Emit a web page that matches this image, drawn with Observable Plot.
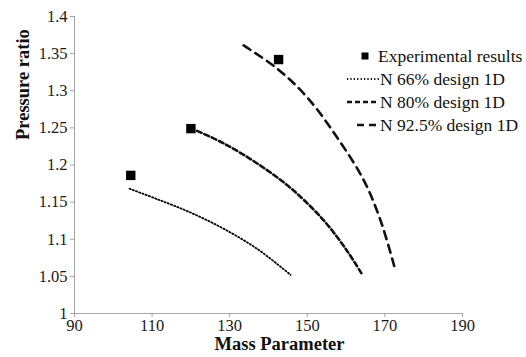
<!DOCTYPE html>
<html>
<head>
<meta charset="utf-8">
<script src="https://cdn.jsdelivr.net/npm/d3@7"></script>
<script src="https://cdn.jsdelivr.net/npm/@observablehq/plot@0.6"></script>
<style>
  html, body { margin: 0; padding: 0; background: #fff; }
  #wrap { position: relative; width: 526px; height: 357px; overflow: hidden; font-family: "Liberation Serif", "Times New Roman", serif; }
  #legend { position: absolute; left: 0; top: 0; width: 526px; height: 357px; pointer-events: none; }
  .row { position: absolute; left: 345px; height: 20px; display: flex; align-items: center; font-size: 17.5px; color: #111; white-space: nowrap; }
  .row svg { flex: none; }
</style>
</head>
<body>
<div id="wrap"></div>
<script>
// ---- data ----
const expX = [104.5, 120.0, 142.6];
const expY = [1.186, 1.249, 1.342];

const n66X = [104.2, 111.3, 119.9, 128.5, 137.1, 145.7];
const n66Y = [1.168, 1.154, 1.136, 1.114, 1.087, 1.052];

const n80X = [121.6, 128.5, 137.1, 145.7, 154.3, 160.3, 164.2];
const n80Y = [1.246, 1.229, 1.202, 1.169, 1.125, 1.084, 1.052];

const n92X = [133.6, 142.2, 150.0, 157.7, 164.6, 168.9, 172.5];
const n92Y = [1.361, 1.330, 1.291, 1.237, 1.179, 1.125, 1.062];

const xTicks = [90, 110, 130, 150, 170, 190];
const yTicks = [1, 1.05, 1.1, 1.15, 1.2, 1.25, 1.3, 1.35, 1.4];
const yTickLabels = ["1", "1.05", "1.1", "1.15", "1.2", "1.25", "1.3", "1.35", "1.4"];

const seriesNames = ["Experimental results", "N 66% design 1D", "N 80% design 1D", "N 92.5% design 1D"];
const xTitle = "Mass Parameter";
const yTitle = "Pressure ratio";

// ---- build tables ----
const toRows = (xs, ys) => xs.map((x, i) => ({x, y: ys[i]}));
const exp = toRows(expX, expY);
const n66 = toRows(n66X, n66Y);
const n80 = toRows(n80X, n80Y);
const n92 = toRows(n92X, n92Y);

const axisGray = "#a6a6a6";
const ink = "#111";

const chart = Plot.plot({
  width: 526,
  height: 357,
  marginTop: 16,
  marginRight: 64,
  marginBottom: 44,
  marginLeft: 74,
  style: { fontFamily: "'Liberation Serif', 'Times New Roman', serif", fontSize: "16px", background: "#fff", color: ink },
  x: { domain: [90, 190] },
  y: { domain: [1, 1.4] },
  marks: [
    Plot.ruleX([90], { stroke: axisGray, strokeWidth: 1 }),
    Plot.ruleY([1], { stroke: axisGray, strokeWidth: 1 }),
    Plot.axisX({ ticks: xTicks, tickSize: 4, tickPadding: 2, stroke: axisGray, fill: "#1a1a1a", label: null, fontSize: 16.5 }),
    Plot.axisY({ ticks: yTicks, tickSize: 4, tickPadding: 3, stroke: axisGray, fill: "#1a1a1a", label: null, fontSize: 16.5,
                 tickFormat: d => yTickLabels[yTicks.indexOf(d)] }),
    Plot.text([xTitle], { frameAnchor: "bottom", dx: 11, dy: 36, fontWeight: "bold", fontSize: 18.5, fill: ink }),
    Plot.text([yTitle], { frameAnchor: "left", rotate: -90, dx: -51, dy: -25, fontWeight: "bold", fontSize: 18.5, fill: ink }),
    Plot.line(n66, { x: "x", y: "y", curve: "catmull-rom", stroke: "#000", strokeWidth: 1.8, strokeDasharray: "1.2,2.2" }),
    Plot.line(n80, { x: "x", y: "y", curve: "catmull-rom", stroke: ink, strokeWidth: 2.6, strokeDasharray: "5,3" }),
    Plot.line(n92, { x: "x", y: "y", curve: "catmull-rom", stroke: ink, strokeWidth: 2.6, strokeDasharray: "8,6" }),
    Plot.dot(exp, { x: "x", y: "y", symbol: "square", r: 5.3, fill: "#000", stroke: "none" })
  ]
});

const wrap = document.getElementById("wrap");
wrap.appendChild(chart);

// ---- legend (HTML overlay) ----
const legend = document.createElement("div");
legend.id = "legend";
const rowsSpec = [
  { top: 46, sample: `<svg width="33" height="10"><rect x="16.5" y="1.5" width="7" height="7" fill="#000"/></svg>` },
  { top: 69, sample: `<svg width="35" height="10"><line x1="2" x2="34" y1="5" y2="5" stroke="#000" stroke-width="1.8" stroke-dasharray="1.2,2.2"/></svg>` },
  { top: 92, sample: `<svg width="35" height="10"><line x1="2" x2="34" y1="5" y2="5" stroke="#111" stroke-width="2.6" stroke-dasharray="5,3"/></svg>` },
  { top: 115, sample: `<svg width="35" height="10"><line x1="12" x2="32" y1="5" y2="5" stroke="#111" stroke-width="2.6" stroke-dasharray="7,5"/></svg>` }
];
rowsSpec.forEach((r, i) => {
  const div = document.createElement("div");
  div.className = "row";
  div.style.top = r.top + "px";
  div.innerHTML = r.sample + `<span>${seriesNames[i]}</span>`;
  legend.appendChild(div);
});
wrap.appendChild(legend);
</script>
</body>
</html>
